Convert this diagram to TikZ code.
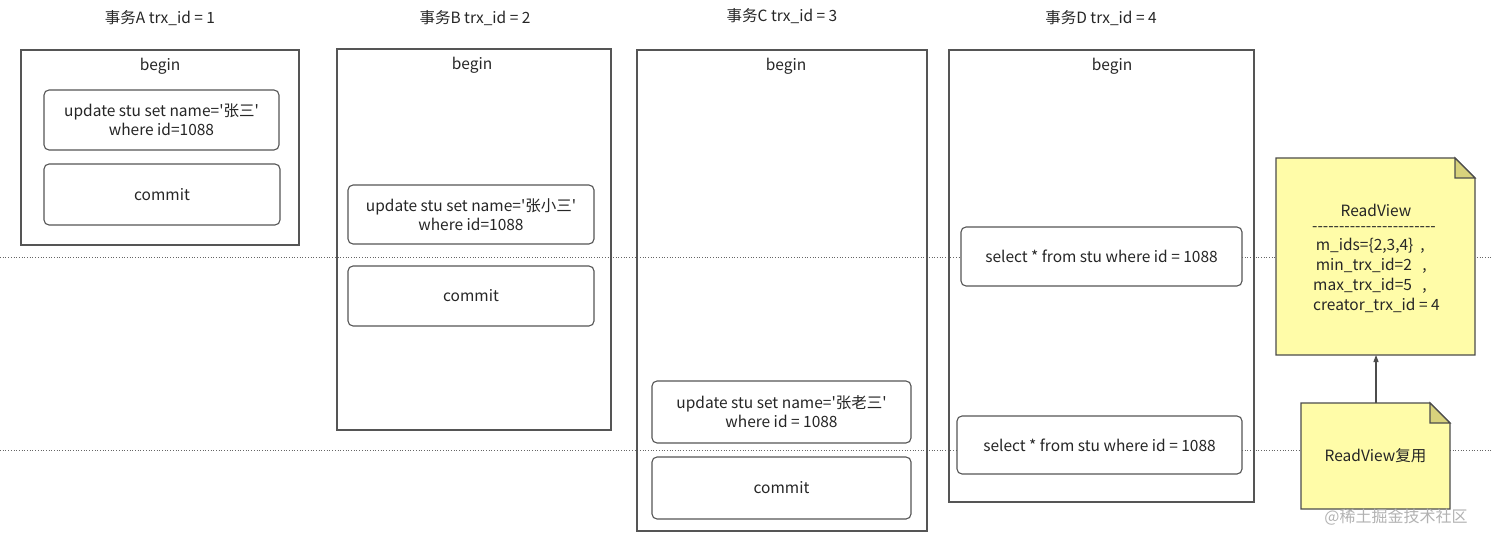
\documentclass[tikz,border=0pt]{standalone}
\usepackage{fontspec}
\setmainfont{Noto Sans CJK SC}[Ligatures=TeXOff]
\usetikzlibrary{arrows.meta}
\definecolor{notefill}{HTML}{FFFCA8}
\definecolor{notefold}{HTML}{D8D27C}
\definecolor{edge}{HTML}{555555}
\tikzset{
  txt/.style={font=\fontsize{15.5}{19}\selectfont, text=black!85, align=center, inner sep=0pt},
  outer/.style={draw=edge, line width=1.1pt},
  inner/.style={draw=edge, line width=1.1pt, rounded corners=5pt, fill=white},
  note/.style={draw=black!70, line width=1.1pt, fill=notefill},
  fold/.style={draw=black!70, line width=1.1pt, fill=notefold},
  guide/.style={draw=black!60, dotted, line width=0.7pt},
}
\begin{document}
\begin{tikzpicture}[x=1pt,y=-1pt]
\useasboundingbox (0,0) rectangle (1493,545);
% guide lines
\coordinate (gl1) at (0,257); \coordinate (gr1) at (1493,257);
\coordinate (gl2) at (0,450); \coordinate (gr2) at (1493,450);
\draw[guide] (gl1) -- (gr1);
\draw[guide] (gl2) -- (gr2);
% titles
\node[txt] (tA) at (160,18) {事务A trx\_id = 1};
\node[txt] (tB) at (475,18) {事务B trx\_id = 2};
\node[txt] (tC) at (782,16) {事务C trx\_id = 3};
\node[txt] (tD) at (1101,18) {事务D trx\_id = 4};
% transaction A
\draw[outer] (21,50) rectangle (299,245);
\node[txt] (bA) at (160,66) {begin};
\draw[inner] (44,90) rectangle (279,150);
\node[txt] (uA) at (161.5,120) {update stu set name='张三'\\where id=1088};
\draw[inner] (44,164) rectangle (280,225);
\node[txt] (cA) at (162,194.5) {commit};
% transaction B
\draw[outer] (337,49) rectangle (611,430);
\node[txt] (bB) at (472,65) {begin};
\draw[inner] (348,185) rectangle (594,244);
\node[txt] (uB) at (471,214.5) {update stu set name='张小三'\\where id=1088};
\draw[inner] (348,266) rectangle (594,326);
\node[txt] (cB) at (471,296) {commit};
% transaction C
\draw[outer] (637,50) rectangle (927,531);
\node[txt] (bC) at (786,66) {begin};
\draw[inner] (652,381) rectangle (911,443);
\node[txt] (uC) at (781.5,412) {update stu set name='张老三'\\where id = 1088};
\draw[inner] (652,457) rectangle (911,519);
\node[txt] (cC) at (781.5,488) {commit};
% transaction D
\draw[outer] (949,50) rectangle (1254,502);
\node[txt] (bD) at (1112,66) {begin};
\draw[inner] (961,227) rectangle (1242,286);
\node[txt] (sD1) at (1101.5,256.5) {select * from stu where id = 1088};
\draw[inner] (957,416) rectangle (1242,474);
\node[txt] (sD2) at (1099.5,445) {select * from stu where id = 1088};
% ReadView note
\draw[note] (1276,158) -- (1455,158) -- (1475,178) -- (1475,355) -- (1276,355) -- cycle;
\draw[fold] (1455,158) -- (1475,178) -- (1455,178) -- cycle;
\coordinate (n1b) at (1376,355);
\node[txt] (rv) at (1376,210) {ReadView};
\node[txt] (rvd) at (1374,229) {-----------------------};
\node[txt, align=left, anchor=west, font=\fontsize{15.5}{20}\selectfont] (rvl) at (1313,275) {\,m\_ids=\{2,3,4\} \ ,\\\,min\_trx\_id=2 \ \ ,\\max\_trx\_id=5 \ \ ,\\creator\_trx\_id = 4};
% reuse note
\draw[note] (1301,403) -- (1430,403) -- (1450,423) -- (1450,509) -- (1301,509) -- cycle;
\draw[fold] (1430,403) -- (1450,423) -- (1430,423) -- cycle;
\coordinate (n2t) at (1376,403);
\node[txt] (reuse) at (1375.5,456) {ReadView复用};
\draw[draw=black!70, line width=1.1pt, -{Triangle[length=7pt,width=5pt]}] (n2t) -- (n1b);
% watermark
\node[txt, text=black!30, font=\fontsize{16}{18}\selectfont] (wm) at (1396,517) {@稀土掘金技术社区};
\end{tikzpicture}
\end{document}
